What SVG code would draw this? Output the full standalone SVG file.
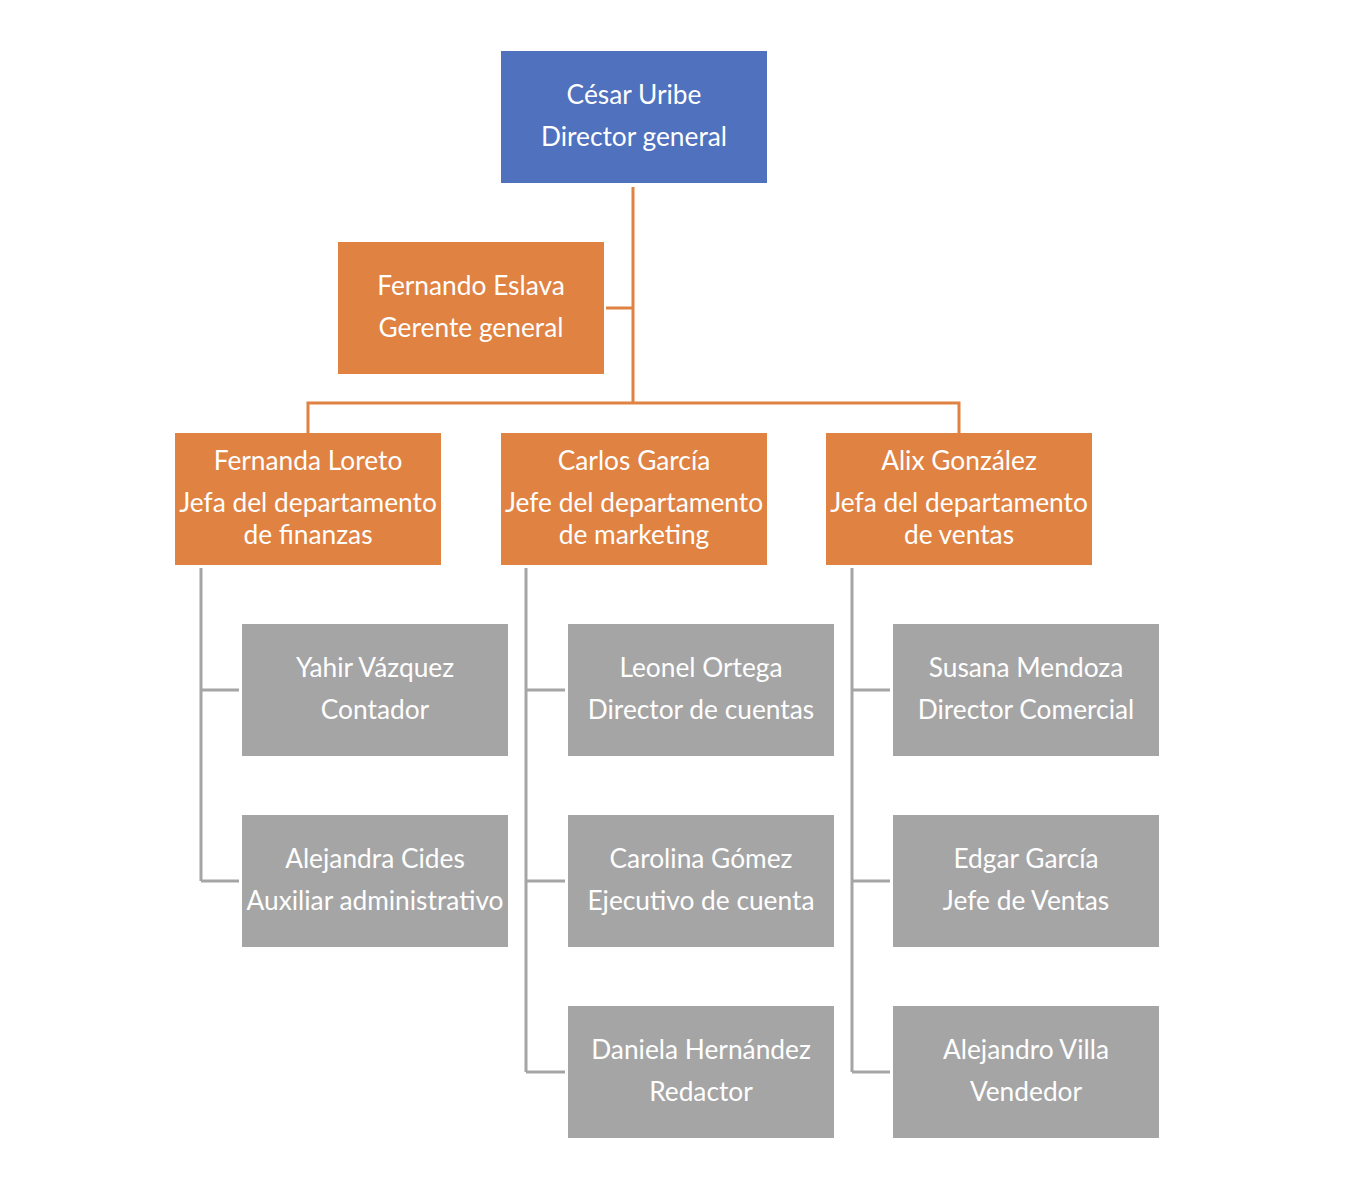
<svg xmlns="http://www.w3.org/2000/svg" width="1356" height="1184" viewBox="0 0 1356 1184">
<style>
text{font-family:Lato,"Open Sans","Liberation Sans",sans-serif;font-size:26.3px;fill:#fff;text-anchor:middle}
.blue{fill:#4F71BE}
.org{fill:#E08241}
.gry{fill:#A5A5A5}
.lo{stroke:#E08241;stroke-width:3;fill:none}
.lg{stroke:#A5A5A5;stroke-width:3;fill:none}
</style>
<rect width="1356" height="1184" fill="#fff"/>
<g id="connectors">
<path class="lo" d="M633 187V403M606 308H633M308 433V403H959V433"/>
<path class="lg" d="M201 568V881M201 690H239M201 881H239"/>
<path class="lg" d="M526 568V1072M526 690H565M526 881H565M526 1072H565"/>
<path class="lg" d="M852 568V1072M852 690H890M852 881H890M852 1072H890"/>
</g>
<g id="cesar"><rect class="blue" x="501" y="51" width="266" height="132"/><text x="634" y="104">César Uribe</text><text x="634" y="146">Director general</text></g>
<g id="fernando"><rect class="org" x="338" y="242" width="266" height="132"/><text x="471" y="295">Fernando Eslava</text><text x="471" y="337">Gerente general</text></g>
<g id="fernanda"><rect class="org" x="175" y="433" width="266" height="132"/><text x="308" y="470">Fernanda Loreto</text><text x="308" y="512">Jefa del departamento</text><text x="308" y="544">de finanzas</text></g>
<g id="carlos"><rect class="org" x="501" y="433" width="266" height="132"/><text x="634" y="470">Carlos García</text><text x="634" y="512">Jefe del departamento</text><text x="634" y="544">de marketing</text></g>
<g id="alix"><rect class="org" x="826" y="433" width="266" height="132"/><text x="959" y="470">Alix González</text><text x="959" y="512">Jefa del departamento</text><text x="959" y="544">de ventas</text></g>
<g id="yahir"><rect class="gry" x="242" y="624" width="266" height="132"/><text x="375" y="677">Yahir Vázquez</text><text x="375" y="719">Contador</text></g>
<g id="alejandra"><rect class="gry" x="242" y="815" width="266" height="132"/><text x="375" y="868">Alejandra Cides</text><text x="375" y="910">Auxiliar administrativo</text></g>
<g id="leonel"><rect class="gry" x="568" y="624" width="266" height="132"/><text x="701" y="677">Leonel Ortega</text><text x="701" y="719">Director de cuentas</text></g>
<g id="carolina"><rect class="gry" x="568" y="815" width="266" height="132"/><text x="701" y="868">Carolina Gómez</text><text x="701" y="910">Ejecutivo de cuenta</text></g>
<g id="daniela"><rect class="gry" x="568" y="1006" width="266" height="132"/><text x="701" y="1059">Daniela Hernández</text><text x="701" y="1101">Redactor</text></g>
<g id="susana"><rect class="gry" x="893" y="624" width="266" height="132"/><text x="1026" y="677">Susana Mendoza</text><text x="1026" y="719">Director Comercial</text></g>
<g id="edgar"><rect class="gry" x="893" y="815" width="266" height="132"/><text x="1026" y="868">Edgar García</text><text x="1026" y="910">Jefe de Ventas</text></g>
<g id="alejandro"><rect class="gry" x="893" y="1006" width="266" height="132"/><text x="1026" y="1059">Alejandro Villa</text><text x="1026" y="1101">Vendedor</text></g>
</svg>
